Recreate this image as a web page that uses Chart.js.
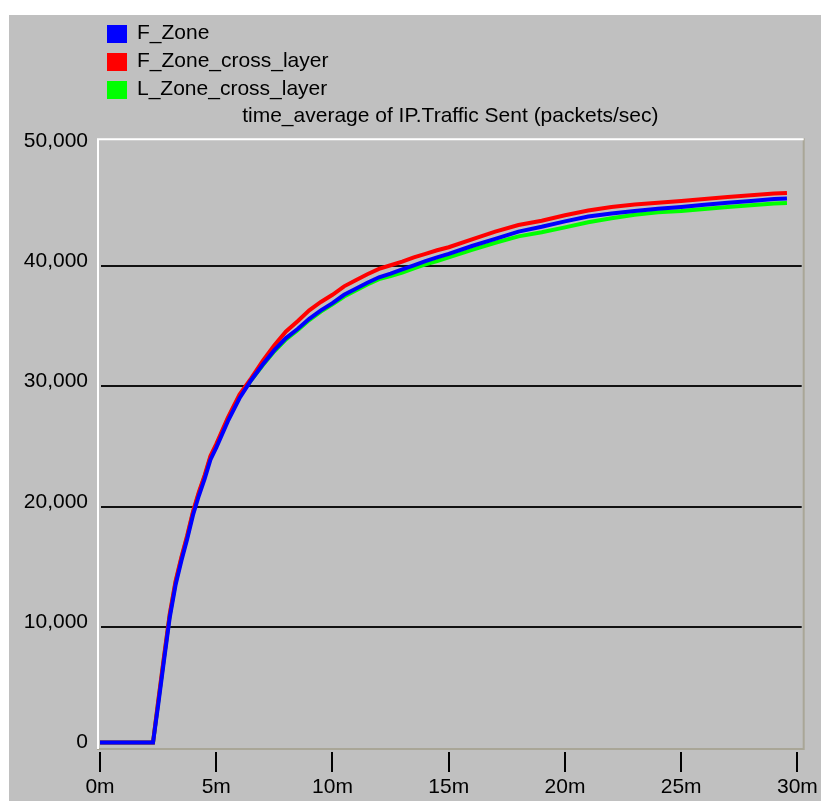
<!DOCTYPE html>
<html><head><meta charset="utf-8">
<script src="https://cdn.jsdelivr.net/npm/chart.js@4"></script>
<style>
html,body{margin:0;padding:0;background:#fff;width:821px;height:801px;overflow:hidden}
#wrap{position:absolute;left:9px;top:15px;width:812px;height:786px;background:#c0c0c0}
canvas{display:block}
</style></head><body>
<div id="wrap"><canvas id="c" width="812" height="786"></canvas></div>
<script>
const timeMinutes = [0,1,2,2.28,2.5,2.75,3,3.25,3.5,3.75,4,4.25,4.5,4.75,5,5.5,6,6.5,7,7.5,8,8.5,9,9.5,10,10.5,11,11.5,12,12.5,13,13.5,14,14.5,15,16,17,18,19,20,21,22,23,24,25,26,27,28,29,29.55];
const fZone = [0,0,0,0,3100,6800,10400,13100,15100,16900,18900,20500,21900,23500,24500,26700,28600,30100,31400,32600,33600,34350,35200,35900,36500,37200,37700,38200,38650,38950,39300,39650,40000,40300,40600,41250,41850,42450,42850,43300,43700,43950,44150,44350,44500,44680,44850,45000,45150,45200];
const fZoneCrossLayer = [0,0,0,0,3400,7100,10700,13400,15400,17200,19200,20800,22200,23800,24800,27000,28900,30250,31700,33000,34150,35000,35900,36600,37200,37900,38400,38900,39350,39650,39950,40300,40600,40900,41150,41800,42450,43000,43350,43800,44200,44500,44700,44850,45000,45160,45320,45470,45610,45660];
const lZoneCrossLayer = [0,0,0,0,3300,7000,10600,13300,15300,17100,19100,20700,22100,23700,24700,26900,28800,30100,31350,32500,33500,34250,35100,35800,36400,37050,37550,38050,38500,38750,39050,39400,39720,40000,40300,40930,41520,42050,42400,42800,43220,43550,43850,44050,44150,44330,44490,44640,44780,44830];
const seriesNames = ['F_Zone','F_Zone_cross_layer','L_Zone_cross_layer'];
const seriesColors = ['#0000ff','#ff0000','#00ff00'];
const xTickValues = [0,5,10,15,20,25,30];
const yTickValues = [0,10000,20000,30000,40000,50000];
const titleText = 'time_average of IP.Traffic Sent (packets/sec)';

const FONT = '"Liberation Sans", Arial, sans-serif';
Chart.defaults.font.family = FONT;
Chart.defaults.font.size = 21;
Chart.defaults.color = '#000';

const allSeries = [fZone, fZoneCrossLayer, lZoneCrossLayer];
const datasets = allSeries.map((vals, i) => ({
  label: seriesNames[i],
  data: timeMinutes.map((t, k) => ({x: t, y: vals[k]})),
  borderColor: seriesColors[i],
  backgroundColor: seriesColors[i],
  borderWidth: 4,
  pointRadius: 0,
  tension: 0,
  fill: false,
  order: i
}));

const framePlugin = {
  id: 'frame',
  beforeDatasetsDraw(chart) {
    const {ctx, chartArea: a, scales: {x, y}} = chart;
    ctx.save();
    ctx.strokeStyle = '#111';
    ctx.lineWidth = 2;
    yTickValues.slice(1, -1).forEach(v => {
      const py = Math.round(y.getPixelForValue(v)) + 5;
      ctx.beginPath();
      ctx.moveTo(a.left + 4, py);
      ctx.lineTo(a.right - 2, py);
      ctx.stroke();
    });
    ctx.strokeStyle = '#000';
    xTickValues.forEach(v => {
      const px = Math.round(x.getPixelForValue(v));
      ctx.beginPath();
      ctx.moveTo(px, a.bottom + 3);
      ctx.lineTo(px, a.bottom + 23);
      ctx.stroke();
    });
    ctx.strokeStyle = '#a9a697';
    ctx.beginPath();
    ctx.moveTo(a.right, a.top);
    ctx.lineTo(a.right, a.bottom);
    ctx.lineTo(a.left, a.bottom);
    ctx.stroke();
    ctx.strokeStyle = '#ffffff';
    ctx.beginPath();
    ctx.moveTo(a.left + 1, a.bottom);
    ctx.lineTo(a.left + 1, a.top + 1);
    ctx.lineTo(a.right, a.top + 1);
    ctx.stroke();
    ctx.restore();
  }
};

const legendPlugin = {
  id: 'customLegend',
  afterDraw(chart) {
    const {ctx} = chart;
    ctx.save();
    ctx.font = '21px ' + FONT;
    ctx.textBaseline = 'middle';
    ctx.textAlign = 'left';
    chart.data.datasets.forEach((ds, i) => {
      const top = 10 + 28 * i;
      ctx.fillStyle = ds.borderColor;
      ctx.fillRect(98, top, 20, 18);
      ctx.fillStyle = '#000';
      ctx.fillText(ds.label, 128, top + 8);
    });
    ctx.restore();
  }
};

new Chart(document.getElementById('c'), {
  type: 'line',
  data: {datasets},
  options: {
    responsive: false,
    animation: false,
    devicePixelRatio: 1,
    layout: {padding: {left: 0, right: 17, top: 0, bottom: 0}},
    plugins: {
      legend: {display: false},
      tooltip: {enabled: false},
      title: {
        display: true, text: titleText, fullSize: false, color: '#000',
        font: {size: 21, weight: 'normal'},
        padding: {top: 89, bottom: 9}
      }
    },
    scales: {
      x: {
        type: 'linear', min: -0.13, max: 30.27,
        afterBuildTicks(s) { s.ticks = xTickValues.map(v => ({value: v})); },
        afterFit(s) { s.height = 52; },
        border: {display: false},
        grid: {display: true, drawOnChartArea: false, drawTicks: true, tickLength: 23, tickWidth: 2, tickColor: 'rgba(0,0,0,0)', color: 'rgba(0,0,0,0)'},
        ticks: {padding: 3, maxRotation: 0, autoSkip: false, color: '#000', callback: v => v + 'm'}
      },
      y: {
        type: 'linear', min: -540, max: 50208,
        afterBuildTicks(s) { s.ticks = yTickValues.map(v => ({value: v})); },
        afterFit(s) { s.width = 88; },
        border: {display: false},
        grid: {display: false, drawTicks: false},
        ticks: {padding: 9, color: '#000', callback: v => Number(v).toLocaleString('en-US')}
      }
    }
  },
  plugins: [framePlugin, legendPlugin]
});
</script>
</body></html>
